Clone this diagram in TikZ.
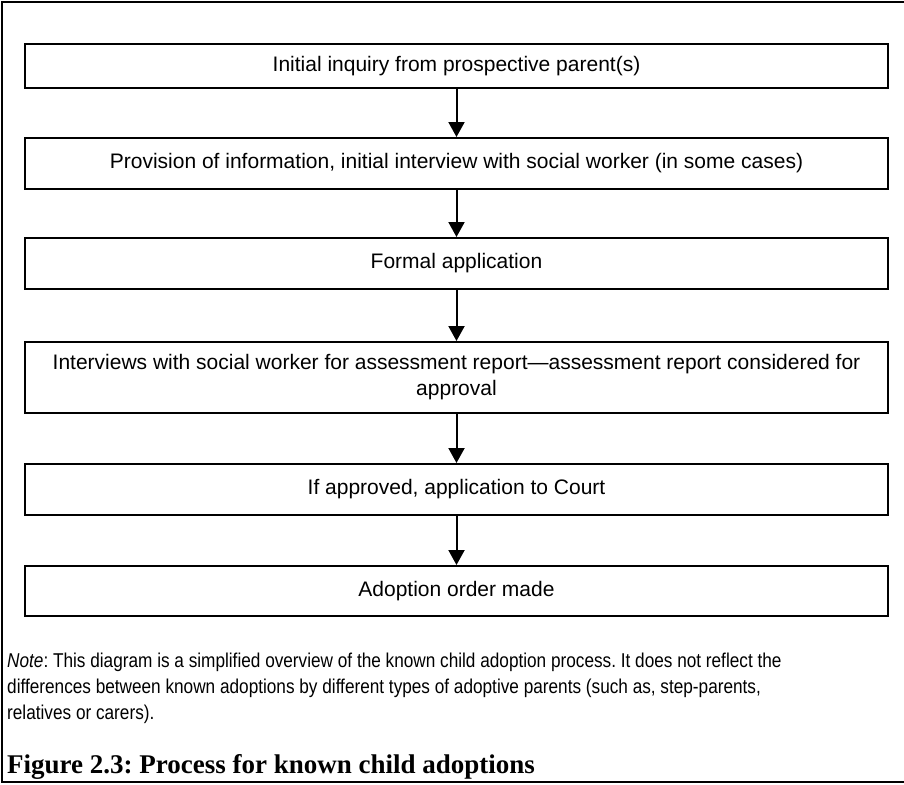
\documentclass[tikz,border=0pt]{standalone}
\usepackage{fontspec}
\setsansfont{Liberation Sans}
\newfontfamily\notefont{Liberation Sans}[FakeStretch=0.86]
\newfontfamily\capfont{Liberation Serif}
\usetikzlibrary{arrows.meta}
\frenchspacing
\begin{document}
\begin{tikzpicture}[x=1pt,y=-1pt,
  stepbox/.style={draw,line width=2pt,minimum width=863pt,inner sep=0pt,
    font=\sffamily\fontsize{21}{26}\selectfont,align=center},
  flow/.style={line width=2pt,-{Triangle[width=16pt,length=15pt]}}]
\useasboundingbox (0,0) rectangle (904,784);
\draw[line width=2.5pt] (906,2) -- (2,2) -- (2,782) -- (906,782);
\node[stepbox,minimum height=44pt] (s1) at (456.5,66) {Initial inquiry from prospective parent(s)};
\node[stepbox,minimum height=51pt] (s2) at (456.5,163.5) {Provision of information, initial interview with social worker (in some cases)};
\node[stepbox,minimum height=51pt] (s3) at (456.5,263.5) {Formal application};
\node[stepbox,minimum height=71pt] (s4) at (456.5,377.5) {Interviews with social worker for assessment report---assessment report considered for\\approval};
\node[stepbox,minimum height=51pt] (s5) at (456.5,489.5) {If approved, application to Court};
\node[stepbox,minimum height=50pt] (s6) at (456.5,591) {Adoption order made};
\draw[flow] (s1) -- (s2);
\draw[flow] (s2) -- (s3);
\draw[flow] (s3) -- (s4);
\draw[flow] (s4) -- (s5);
\draw[flow] (s5) -- (s6);
\node[anchor=north west,inner sep=0pt,align=left,font=\notefont\fontsize{20}{26}\selectfont\frenchspacing] (note) at (7,653)
 {\textit{Note}: This diagram is a simplified overview of the known child adoption process. It does not reflect the\\
 differences between known adoptions by different types of adoptive parents (such as, step-parents,\\
 relatives or carers).};
\node[anchor=west,inner sep=0pt,font=\capfont\bfseries\fontsize{27}{30}\selectfont\frenchspacing] (cap) at (7,767) {Figure 2.3: Process for known child adoptions};
\end{tikzpicture}
\end{document}
